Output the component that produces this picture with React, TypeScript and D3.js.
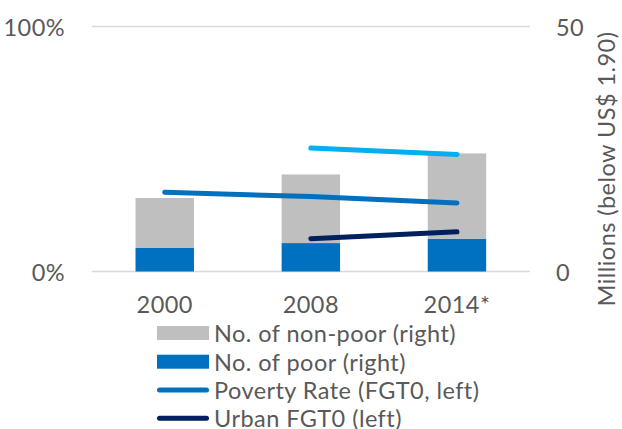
import React from "react";
import * as d3 from "d3";

const years = ["2000", "2008", "2014*"];
const poor = [4.8, 5.8, 6.7];
const nonPoor = [10.2, 14.0, 17.4];
const povertyRate = [32.3, 30.6, 28.0];
const ruralRate = [null, 50.4, 47.8];
const urbanRate = [null, 13.4, 16.2];
const leftTicks = [0, 100];
const rightTicks = [0, 50];

const W = 622;
const H = 429;
const X0 = 91.7;
const X1 = 530;
const Y0 = 271.5;
const Y1 = 26.5;
const FONT = "Lato, 'Open Sans', sans-serif";
const TXT = "#595959";
const FS = 23.5;
const LS = 0.45;

export default function App() {
  const x = d3.scaleBand<string>().domain(years).range([X0, X1]).paddingInner(0.6).paddingOuter(0.3);
  const yL = d3.scaleLinear().domain([0, 100]).range([Y0, Y1]);
  const yR = d3.scaleLinear().domain([0, 50]).range([Y0, Y1]);
  const cx = (i: number) => (x(years[i]) as number) + x.bandwidth() / 2;

  const lineGen = d3
    .line<[number, number | null]>()
    .defined((d) => d[1] !== null)
    .x((d) => cx(d[0]))
    .y((d) => yL(d[1] as number));

  const series = [
    { vals: povertyRate, color: "#0070C0" },
    { vals: ruralRate, color: "#00B0F0" },
    { vals: urbanRate, color: "#002060" },
  ];

  const legend = [
    { label: "No. of non-poor (right)", kind: "rect", color: "#BFBFBF" },
    { label: "No. of poor (right)", kind: "rect", color: "#0070C0" },
    { label: "Poverty Rate (FGT0, left)", kind: "line", color: "#0070C0" },
    { label: "Urban FGT0 (left)", kind: "line", color: "#002060" },
  ];
  const legY = [333, 361.7, 390, 418.3];

  return (
    <svg
      width={W}
      height={H}
      style={{ position: "absolute", left: 0, top: 0, background: "#fff" }}
      fontFamily={FONT}
      letterSpacing={LS}
    >
      {leftTicks.map((t) => (
        <line key={"g" + t} x1={X0} x2={X1} y1={yL(t)} y2={yL(t)} stroke="#D9D9D9" strokeWidth={1.5} />
      ))}
      {years.map((yr, i) => (
        <g key={yr}>
          <rect x={x(yr)} width={x.bandwidth()} y={yR(poor[i])} height={Y0 - yR(poor[i])} fill="#0070C0" />
          <rect
            x={x(yr)}
            width={x.bandwidth()}
            y={yR(poor[i] + nonPoor[i])}
            height={yR(poor[i]) - yR(poor[i] + nonPoor[i])}
            fill="#BFBFBF"
          />
        </g>
      ))}
      {series.map((s, k) => (
        <path
          key={k}
          d={lineGen(s.vals.map((v, i) => [i, v] as [number, number | null])) || ""}
          fill="none"
          stroke={s.color}
          strokeWidth={5}
          strokeLinecap="round"
        />
      ))}
      {leftTicks.map((t) => (
        <text key={"l" + t} x={65} y={yL(t)} textAnchor="end" dominantBaseline="central" fill={TXT} fontSize={FS}>
          {t + "%"}
        </text>
      ))}
      {rightTicks.map((t) => (
        <text key={"r" + t} x={556} y={yR(t)} textAnchor="start" dominantBaseline="central" fill={TXT} fontSize={FS}>
          {t}
        </text>
      ))}
      {years.map((yr, i) => (
        <text key={"x" + yr} x={cx(i)} y={304} textAnchor="middle" dominantBaseline="central" fill={TXT} fontSize={FS}>
          {yr}
        </text>
      ))}
      <text
        transform={`translate(606,169) rotate(-90)`}
        textAnchor="middle"
        dominantBaseline="central"
        fill={TXT}
        fontSize={FS}
      >
        Millions (below US$ 1.90)
      </text>
      {legend.map((l, i) => (
        <g key={l.label}>
          {l.kind === "rect" ? (
            <rect x={157} y={legY[i] - 7} width={52} height={14} fill={l.color} />
          ) : (
            <line x1={159.5} x2={206.5} y1={legY[i]} y2={legY[i]} stroke={l.color} strokeWidth={5} strokeLinecap="round" />
          )}
          <text x={214} y={legY[i]} dominantBaseline="central" fill={TXT} fontSize={FS}>
            {l.label}
          </text>
        </g>
      ))}
    </svg>
  );
}
